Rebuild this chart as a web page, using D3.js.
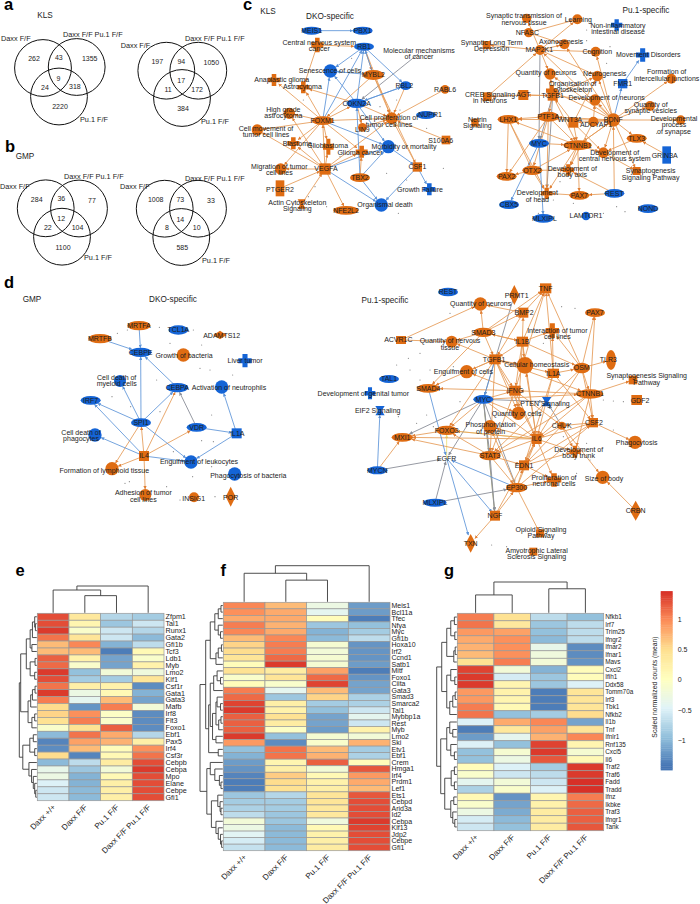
<!DOCTYPE html>
<html>
<head>
<meta charset="utf-8">
<script src="https://cdn.jsdelivr.net/npm/d3@7"></script>
<style>
  html, body { margin: 0; padding: 0; background: #fff; }
  svg text { font-family: "Liberation Sans", Arial, sans-serif; fill: #1c1c1c; }
</style>
</head>
<body>
<div id="chart"></div>
<script>
// ---------- venn counts: only A, AB, only B, ABC, AC, BC, only C
var vennLabels = ["Daxx F/F", "Daxx F/F Pu.1 F/F", "Pu.1 F/F"];
var klsUp = [262, 43, 1355, 9, 24, 318, 2220];
var klsDown = [197, 94, 1050, 17, 11, 172, 384];
var gmpUp = [284, 36, 77, 12, 22, 104, 1100];
var gmpDown = [1008, 73, 33, 14, 8, 10, 585];

// ---------- heatmaps
var conditions = ["Daxx +/+", "Daxx F/F", "Pu.1 F/F", "Daxx F/F Pu.1 F/F"];

var eGenes = ["Zfpm1","Tal1","Runx1","Gata2","Gfi1b","Tcf3","Ldb1","Myb","Lmo2","Klf1","Csf1r","Gata1","Gata3","Mafb","Irf8","Flt3","Foxo1","Ebf1","Pax5","Irf4","Csf3r","Cebpb","Cebpa","Mpo","Elane","Cebpe","Gfi1"];
var eValues = [
  [1.3,0.35,-0.75,-0.85],[1.3,0.15,-0.9,-0.6],[1.4,-0.1,-0.6,-0.75],[1.1,0.4,-0.6,-1.0],[0.7,1.0,-1.05,-0.7],
  [0.7,0.7,-1.4,0.1],[1.2,0.2,-1.15,-0.1],[1.15,-0.1,-1.15,0.2],[1.4,-0.95,-0.2,-0.25],[1.3,-0.85,-0.85,0.4],
  [1.1,0.25,0.2,-1.3],[1.4,-0.3,0.1,-1.05],[1.05,-0.4,0.7,-1.15],[0.5,-1.25,1.05,-0.2],[0.55,0.95,-0.05,-1.3],
  [0.45,1.05,-0.1,-1.3],[-0.1,0.45,1.2,-1.3],[-1.0,1.1,0.8,-0.75],[-1.35,0.85,0.75,0.25],[-1.3,0.7,0.05,0.95],
  [0.5,-1.35,0.1,1.1],[-1.0,-0.7,0.3,1.3],[-0.35,-0.9,-0.2,1.4],[-0.3,-1.05,0.1,1.3],[-0.5,-1.05,0.25,1.3],
  [-0.6,-1.0,0.25,1.3],[-0.6,-1.0,0.25,1.3]];

var fGenes = ["Meis1","Bcl11a","Tfec","Nfya","Myc","Gfi1b","Hoxa10","Irf2","Ccnd1","Satb1","Mitf","Foxo1","Ciita","Gata3","Smad3","Smarca2","Tal1","Mybbp1a","Rest","Myb","Lmo2","Ski","Etv1","Ebf1","Crem","Hmga1","Irf4","Prdm1","Lef1","Ets1","Cebpd","Arid3a","Id2","Cebpa","Klf13","Jdp2","Cebpe","Gfi1"];
var fValues = [
  [1.0,0.7,-0.3,-1.2],[0.95,0.8,-0.4,-1.2],[0.8,0.8,0.05,-1.4],[1.05,0.75,-0.9,-0.95],[1.0,0.8,-1.05,-0.85],
  [0.7,1.0,-1.0,-0.7],[0.55,1.05,-0.15,-1.25],[0.5,1.05,-0.2,-1.25],[0.4,1.15,-0.15,-1.25],[0.05,1.4,-0.15,-1.2],
  [0.45,0.3,0.85,-1.4],[-0.1,0.4,1.15,-1.25],[0.05,-0.1,1.35,-1.15],[1.05,-0.4,0.7,-1.15],[1.15,-0.9,0.55,-0.8],
  [1.35,0.25,-0.85,-0.8],[1.4,0.2,-0.95,-0.6],[1.2,0.45,-1.15,-0.4],[1.2,0.3,-1.15,-0.6],[1.2,-0.05,-1.2,0.2],
  [1.4,-0.95,-0.15,-0.2],[0.9,-1.3,-0.1,0.75],[-0.95,1.1,0.7,-0.85],[-1.05,1.1,0.75,-0.8],[-1.2,0.15,1.2,0.05],
  [-1.25,0.25,-0.2,1.25],[-1.35,0.6,0.1,0.9],[-1.4,0.5,0.2,0.8],[-1.4,0.45,0.25,0.7],[-0.9,-0.75,0.4,1.25],
  [-0.85,-0.85,0.4,1.3],[-0.8,-0.85,0.35,1.3],[-0.7,-0.9,0.35,1.3],[-0.2,-0.9,-0.25,1.4],[-0.3,-1.0,0.1,1.35],
  [-0.45,-1.0,0.2,1.3],[-0.55,-1.0,0.25,1.3],[-0.65,-1.0,0.3,1.3]];

var gGenes = ["Nfkb1","Irf7","Trim25","Ifngr2","Ifnar2","Ifnar1","Mavs","Cxcl2","Ifih1","Ddx58","Tomm70a","Irf3","Tbk1","Nfkb2","Il1b","Tnf","Ifnlr1","Rnf135","Cxcl5","Il6","Traf2","Traf6","Fadd","Tradd","Ifnz","Ikbke","Traf3","Ifngr1","Tank"];
var gValues = [
  [1.05,0.45,-0.7,-0.95],[1.1,0.35,-0.9,-0.7],[0.9,0.85,-0.95,-0.7],[0.8,0.95,-1.0,-0.7],[0.75,0.95,-0.35,-1.3],
  [0.7,0.95,-0.25,-1.3],[0.45,1.05,-0.2,-1.25],[1.35,-0.2,-1.05,0.05],[1.4,-0.55,-0.9,0.05],[1.4,0.15,-0.9,-0.5],
  [0.9,0.2,-1.4,0.4],[0.9,0.15,-1.4,0.4],[1.05,0.1,-1.4,0.4],[1.1,-0.95,-0.85,0.5],[-0.5,0.8,1.0,-1.15],
  [-1.4,0.35,0.85,0.4],[-1.2,-0.4,0.75,1.0],[-0.5,-0.95,1.35,0.15],[-0.95,-0.15,1.4,-0.15],[-0.95,-0.3,1.25,0.1],
  [0.05,-0.5,-0.85,1.4],[-0.1,-0.6,-0.7,1.4],[-0.4,-0.2,-0.6,1.45],[-0.8,-0.1,-0.5,1.45],[0.1,-1.25,0.15,1.05],
  [-0.1,-1.15,0.2,1.15],[-0.3,-1.1,0.3,1.2],[-0.55,-1.0,0.3,1.2],[-0.6,-0.95,0.3,1.25]];

// dendrograms, [height, left, right], 0 is a leaf
var eColTree = [1, [0.85, 0, [0.64, 0, 0]], 0];
var fColTree = [1, [0.79, 0, [0.6, 0, 0]], 0];
var gColTree = [1, [0.58, 0, 0], [0.78, 0, 0]];
var eRowTree = [1,
  [0.92,
    [0.6, [0.38, [0.25, [0.12, 0, [0.08, 0, 0]], 0], [0.28, 0, 0]], [0.38, [0.1, 0, 0], [0.12, 0, 0]]],
    [0.5, [0.35, [0.25, [0.1, 0, 0], 0], 0], [0.28, [0.12, 0, 0], 0]]],
  [0.8,
    [0.4, [0.2, 0, 0], [0.12, 0, 0]],
    [0.45, 0, [0.3, 0, [0.2, 0, [0.12, 0, [0.06, 0, 0]]]]]]];
var fRowTree = [1,
  [0.75,
    [0.55, [0.35, [0.2, [0.08, 0, 0], 0], [0.2, 0, [0.1, 0, 0]]], [0.3, [0.2, [0.06, 0, 0], 0], 0]],
    [0.62,
      [0.55, [0.4, [0.25, 0, [0.1, 0, 0]], 0], [0.45, [0.3, [0.25, 0, [0.1, 0, 0]], [0.18, [0.08, 0, 0], 0]], [0.3, 0, 0]]],
      [0.2, 0, 0]]],
  [0.7,
    [0.55, 0, [0.35, 0, [0.15, 0, [0.08, 0, 0]]]],
    [0.5, [0.22, 0, [0.12, 0, [0.08, 0, 0]]], [0.3, 0, [0.2, 0, [0.1, 0, [0.05, 0, 0]]]]]]];
var gRowTree = [1,
  [0.75,
    [0.5, [0.3, [0.12, 0, 0], [0.1, 0, 0]], [0.15, [0.08, 0, 0], 0]],
    [0.5, [0.3, 0, [0.1, 0, 0]], [0.35, [0.2, [0.08, 0, 0], 0], 0]]],
  [0.8,
    [0.5, [0.35, 0, [0.2, 0, 0]], [0.3, 0, [0.12, 0, 0]]],
    [0.6, [0.28, [0.12, 0, 0], [0.12, 0, 0]], [0.3, [0.15, 0, 0], [0.2, 0, [0.1, 0, 0]]]]]];

var colorTicks = [1, 0.5, 0, -0.5, -1];

// ---------- networks: id, label, up (orange) or down (blue)
var c1Nodes = [
  ["MEIS1","MEIS1","d"],["PBX1","PBX1","d"],["cns","Central nervous system\ncancer","u"],["RB1","RB1","d"],
  ["mol","Molecular mechanisms\nof cancer","n"],["sen","Senescence of cells","d"],["MYBL2","MYBL2","u"],["RBL2","RBL2","d"],
  ["RABL6","RABL6","u"],["ana","Anaplastic glioma","u"],["astro","Astrocytoma","u"],["CDKN2A","CDKN2A","d"],
  ["NUPR1","NUPR1","d"],["hga","High grade\nastrocytoma","u"],["FOXM1","FOXM1","u"],["prolif","Cell proliferation of\ntumor cell lines","u"],
  ["LIN9","LIN9","u"],["move","Cell movement of\ntumor cell lines","u"],["blast","Blastoma","u"],["gbm","Glioblastoma","u"],
  ["glioma","Glioma cancer","u"],["morb","Morbidity or mortality","d"],["S100A6","S100A6","u"],["migr","Migration of tumor\ncell lines","u"],
  ["VEGFA","VEGFA","u"],["TBX2","TBX2","u"],["CSF1","CSF1","u"],["PTGER2","PTGER2","u"],["grow","Growth Failure","d"],
  ["actin","Actin Cytoskeleton\nSignaling","u"],["NFE2L2","NFE2L2","u"],["death","Organismal death","d"]];
var c1Edges = {
  o: [["cns","RB1"],["FOXM1","ana"],["FOXM1","astro"],["FOXM1","hga"],["FOXM1","move"],["FOXM1","blast"],["FOXM1","gbm"],["FOXM1","migr"],["FOXM1","glioma"],["FOXM1","prolif"],["FOXM1","CDKN2A"],["MYBL2","FOXM1"],["MYBL2","prolif"],["RB1","MYBL2"],["RB1","prolif"],["CDKN2A","astro"],["CDKN2A","prolif"],["CDKN2A","LIN9"],["cns","astro"],["VEGFA","move"],["VEGFA","hga"],["VEGFA","blast"],["VEGFA","gbm"],["VEGFA","glioma"],["VEGFA","migr"],["VEGFA","NFE2L2"],["PTGER2","VEGFA"],["VEGFA","prolif"],["VEGFA","FOXM1"],["RABL6","prolif"],["S100A6","prolif"],["RBL2","prolif"],["CSF1","prolif"],["TBX2","glioma"],["LIN9","prolif"],["actin","VEGFA"],["MYBL2","CSF1"]],
  b: [["MEIS1","PBX1"],["CDKN2A","RB1"],["MYBL2","RB1"],["RB1","sen"],["CDKN2A","sen"],["MYBL2","sen"],["CDKN2A","RBL2"],["RB1","RBL2"],["FOXM1","RB1"],["FOXM1","sen"],["TBX2","CDKN2A"],["FOXM1","morb"],["CDKN2A","morb"],["TBX2","morb"],["TBX2","death"],["VEGFA","death"],["CSF1","death"],["CSF1","grow"],["morb","CSF1"],["VEGFA","morb"],["RBL2","CDKN2A"]],
  g: [["mol","CDKN2A"]], y: []};
var c1Dots = [[420,320],[480,330],[560,385],[585,340],[470,300],[205,590],[225,560],[260,620],[475,640],[500,540],[440,520],[610,505],[335,175],[190,300],[300,470]];

var c2Nodes = [
  ["syn","Synaptic transmission of\nnervous tissue","u"],["learn","Learning","u"],["nonin","Non-inflammatory\nintestinal disease","d"],["NFASC","NFASC","u"],
  ["axo","Axonogenesis","u"],["ltd","Synaptic Long Term\nDepression","u"],["MAP2K1","MAP2K1","u"],["cog","Cognition","u"],
  ["movd","Movement Disorders","d"],["qneu","Quantity of neurons","u"],["neuro","Neurogenesis","u"],["form","Formation of\nintercellular junctions","u"],
  ["FMR1","FMR1","d"],["org","Organisation of\ncytoskeleton","u"],["creb","CREB Signaling\nin Neurons","u"],["AGT","AGT","u"],
  ["TGFB1","TGFB1","u"],["devn","Development of neurons","u"],["qsv","Quantity of\nsynaptic vesicles","u"],["netrin","Netrin\nSignaling","u"],
  ["LHX1","LHX1","u"],["PTF1A","PTF1A","u"],["WNT3A","WNT3A","u"],["ADCYAP1","ADCYAP1","u"],["BDNF","BDNF","u"],
  ["dps","Developmental\nprocess\nof synapse","u"],["TLX3","TLX3","u"],["MYC","MYC","d"],["CTNNB1","CTNNB1","u"],
  ["dcns","Development of\ncentral nervous system","u"],["GRIN3A","GRIN3A","d"],["synap","Synaptogenesis\nSignaling Pathway","u"],["OTX2","OTX2","u"],
  ["dba","Development of\nbody axis","u"],["PAX2","PAX2","u"],["dh","Development\nof head","u"],["PAX7","PAX7","u"],["REST","REST","d"],
  ["CBX5","CBX5","d"],["MLXIPL","MLXIPL","d"],["LAMTOR1","LAMTOR1","d"],["NOND","NOND","d"]];
var c2Edges = {
  o: [["MAP2K1","syn"],["MAP2K1","learn"],["MAP2K1","axo"],["MAP2K1","cog"],["MAP2K1","ltd"],["MAP2K1","qneu"],["MAP2K1","neuro"],["NFASC","axo"],["NFASC","learn"],["BDNF","cog"],["BDNF","axo"],["BDNF","MAP2K1"],["BDNF","qneu"],["BDNF","neuro"],["BDNF","devn"],["BDNF","org"],["BDNF","form"],["BDNF","qsv"],["BDNF","dps"],["BDNF","TLX3"],["BDNF","LHX1"],["BDNF","PTF1A"],["BDNF","synap"],["BDNF","dcns"],["BDNF","CTNNB1"],["BDNF","WNT3A"],["TGFB1","AGT"],["AGT","creb"],["TGFB1","devn"],["TGFB1","PTF1A"],["TGFB1","qneu"],["TGFB1","neuro"],["TGFB1","CTNNB1"],["WNT3A","CTNNB1"],["WNT3A","TGFB1"],["WNT3A","neuro"],["WNT3A","dcns"],["ADCYAP1","devn"],["ADCYAP1","BDNF"],["ADCYAP1","dba"],["PTF1A","LHX1"],["PTF1A","OTX2"],["PTF1A","PAX2"],["PTF1A","dh"],["PTF1A","CTNNB1"],["LHX1","PAX2"],["LHX1","OTX2"],["LHX1","dh"],["OTX2","PAX2"],["OTX2","dh"],["OTX2","dba"],["OTX2","CTNNB1"],["CTNNB1","dba"],["CTNNB1","dh"],["CTNNB1","PAX7"],["CTNNB1","LHX1"],["CTNNB1","dcns"],["CTNNB1","BDNF"],["PAX7","dh"],["REST","PAX7"],["REST","BDNF"],["REST","dba"],["TLX3","dcns"],["GRIN3A","TLX3"],["dcns","synap"],["creb","MAP2K1"],["AGT","TGFB1"],["MYC","CTNNB1"]],
  b: [["FMR1","movd"],["BDNF","FMR1"],["MYC","CBX5"],["MYC","MLXIPL"]],
  g: [["MAP2K1","MYC"],["TGFB1","MYC"],["TGFB1","dh"]], y: []};
var c2Dots = [[350,122],[410,190],[420,140],[310,610],[465,635],[400,640],[440,620],[270,545],[250,600],[560,400],[205,640],[150,100],[350,90]];

var d1Nodes = [
  ["MRTFA","MRTFA","u"],["TCL1A","TCL1A","d"],["ADAMTS12","ADAMTS12","u"],["MRTFB","MRTFB","u"],["CEBPE","CEBPE","d"],
  ["gob","Growth of bacteria","u"],["liver","Liver tumor","d"],["cdm","Cell death of\nmyeloid cells","d"],["CEBPA","CEBPA","d"],
  ["act","Activation of neutrophils","d"],["IRF7","IRF7","d"],["SPI1","SPI1","d"],["VDR","VDR","d"],["IL1A","IL1A","d"],
  ["cdp","Cell death of\nphagocytes","d"],["IL4","IL4","u"],["eng","Engulfment of leukocytes","d"],["lym","Formation of lymphoid tissue","u"],
  ["pob","Phagocytosis of bacteria","d"],["adh","Adhesion of tumor\ncell lines","u"],["INSIG1","INSIG1","u"],["POR","POR","u"]];
var d1Edges = {
  o: [["IL4","CEBPA"],["IL4","SPI1"],["IL4","VDR"],["SPI1","lym"],["IL4","lym"],["IL4","adh"]],
  b: [["MRTFB","CEBPE"],["MRTFA","CEBPE"],["SPI1","CEBPE"],["CEBPA","CEBPE"],["SPI1","CEBPA"],["SPI1","IRF7"],["IL4","IRF7"],["IL4","cdp"],["SPI1","cdm"],["SPI1","eng"],["IL4","eng"],["VDR","IL1A"],["IL1A","act"],["IL1A","eng"]],
  g: [["VDR","CEBPA"]], y: []};
var d1Dots = [[352,190],[382,180],[478,172],[510,220],[580,180],[605,225],[600,295],[470,330],[630,300],[698,315],[336,380],[392,410],[480,425],[635,435],[605,512],[640,515],[520,545],[578,620],[635,590],[500,650],[645,680],[388,635],[375,640],[540,690]];

var d2Nodes = [
  ["REST","REST","d"],["PRMT1","PRMT1","u"],["TNF","TNF","u"],["qneu","Quantity of neurons","u"],["BMP2","BMP2","u"],["PAX7","PAX7","u"],
  ["itc","Interaction of tumor\ncell lines","u"],["SMAD3","SMAD3","u"],["ACVR1C","ACVR1C","u"],["qnt","Quantity of nervous\ntissue","u"],["IL1B","IL1B","u"],
  ["TGFB1","TGFB1","u"],["TLR3","TLR3","u"],["hom","Cellular homeostasis","u"],["OSM","OSM","u"],["IL1A","IL1A","u"],["eng","Engulfment of cells","u"],
  ["syn","Synaptogenesis Signaling\nPathway","u"],["TAL1","TAL1","d"],["SMAD4","SMAD4","u"],["IFNG","IFNG","u"],["gen","Development of genital tumor","d"],
  ["CTNNB1","CTNNB1","u"],["MYC","MYC","d"],["GDF2","GDF2","u"],["pten","PTEN Signaling","d"],["eif2","EIF2 Signaling","d"],["qc","Quantity of cells","u"],
  ["CHUK","CHUK","u"],["CSF2","CSF2","u"],["FOXO3","FOXO3","u"],["phos","Phosphorylation\nof protein","u"],["MXI1","MXI1","u"],["IL6","IL6","u"],
  ["phago","Phagocytosis","u"],["dbt","Development of\nbody trunk","u"],["STAT3","STAT3","u"],["EGFR","EGFR","n"],["EDN1","EDN1","u"],["MYCN","MYCN","d"],
  ["pnc","Proliferation of\nneuronal cells","u"],["size","Size of body","u"],["EP300","EP300","u"],["MLXIPL","MLXIPL","d"],["CRBN","CRBN","u"],["NGF","NGF","u"],
  ["opi","Opioid Signaling\nPathway","u"],["TXN","TXN","u"],["als","Amyotrophic Lateral\nSclerosis Signaling","u"]];
var d2Edges = {
  o: [["ACVR1C","qneu"],["ACVR1C","qnt"],["SMAD3","qneu"],["SMAD3","TNF"],["SMAD3","BMP2"],["SMAD3","IL1B"],["SMAD3","TGFB1"],["SMAD3","SMAD4"],["SMAD3","qnt"],["BMP2","TNF"],["BMP2","qneu"],["BMP2","TGFB1"],["IL1B","TNF"],["IL1B","BMP2"],["IL1B","itc"],["IL1B","SMAD3"],["IL1B","TGFB1"],["IL1B","hom"],["IL1B","OSM"],["IL1B","IL6"],["IL1B","IFNG"],["IL1B","qc"],["TGFB1","eng"],["TGFB1","qnt"],["TGFB1","SMAD4"],["TGFB1","hom"],["TGFB1","IFNG"],["TGFB1","IL1A"],["TGFB1","IL6"],["TGFB1","STAT3"],["TGFB1","qc"],["TGFB1","FOXO3"],["TGFB1","CTNNB1"],["IL1A","TNF"],["IL1A","itc"],["IL1A","IL6"],["IL1A","OSM"],["IL1A","CSF2"],["IL1A","EDN1"],["OSM","TLR3"],["OSM","PAX7"],["OSM","itc"],["OSM","TNF"],["OSM","CTNNB1"],["OSM","IL6"],["OSM","CSF2"],["OSM","STAT3"],["CTNNB1","syn"],["CTNNB1","PAX7"],["CTNNB1","IL6"],["CTNNB1","CSF2"],["CTNNB1","dbt"],["CTNNB1","IFNG"],["CTNNB1","STAT3"],["IFNG","IL6"],["IFNG","STAT3"],["IFNG","TNF"],["IFNG","qc"],["IFNG","eng"],["IFNG","SMAD4"],["IFNG","CHUK"],["IL6","STAT3"],["IL6","EDN1"],["IL6","dbt"],["IL6","pnc"],["IL6","CSF2"],["IL6","hom"],["IL6","phos"],["IL6","FOXO3"],["IL6","MXI1"],["STAT3","MXI1"],["STAT3","FOXO3"],["STAT3","EDN1"],["STAT3","EP300"],["EP300","pnc"],["EP300","opi"],["EP300","IL6"],["EP300","EDN1"],["EP300","CSF2"],["EP300","phos"],["NGF","EP300"],["NGF","TXN"],["NGF","IL6"],["EDN1","dbt"],["EDN1","pnc"],["EDN1","CSF2"],["CSF2","phago"],["CSF2","CHUK"],["CHUK","IL6"],["CHUK","dbt"],["CHUK","size"],["CHUK","EDN1"],["CRBN","size"],["FOXO3","MXI1"],["MYC","IFNG"],["MYC","CTNNB1"],["MYC","IL6"],["MYC","qc"],["MYC","FOXO3"],["MYCN","MXI1"]],
  b: [["SMAD4","EGFR"],["EGFR","TXN"],["MYCN","eif2"],["EGFR","NGF"],["EP300","EGFR"],["TGFB1","MYC"]],
  g: [["MYC","MXI1"],["MYC","STAT3"],["MYC","EP300"],["MYC","NGF"],["MYC","EGFR"],["PRMT1","MYC"],["MYCN","EGFR"],["MLXIPL","EP300"],["MLXIPL","EGFR"],["STAT3","NGF"],["MYC","pten"],["CHUK","pten"]],
  y: [["MYC","NGF"],["IL6","FOXO3"],["EGFR","FOXO3"]]};
var d2Dots = [[725,110],[765,115],[390,130],[300,250],[265,265],[330,300],[270,300],[230,285],[300,330],[400,290],[320,435],[290,460],[340,470],[235,440],[850,390],[880,393],[910,395],[515,825],[560,830],[730,500],[800,520],[880,480],[420,395],[670,220],[770,610],[810,570]];

// ---------- layout only, in crop pixels (3x). id: [x, y, shape, halfW, halfH, labelX, labelY]
var c1Layout = {
  MEIS1:[215,92,"e",30,12,215,92],PBX1:[368,92,"e",30,12,368,92],cns:[232,135,"p",18,22,238,136],RB1:[372,140,"e",30,12,372,140],
  mol:[537,160,"n",10,10,537,160],sen:[271,213,"c",20,20,270,212],MYBL2:[400,225,"e",32,15,400,225],RBL2:[497,257,"e",17,13,493,257],
  RABL6:[615,268,"c",13,13,615,270],ana:[102,240,"p",18,18,125,238],astro:[190,262,"p",18,18,187,260],CDKN2A:[350,310,"e",30,14,350,310],
  NUPR1:[558,345,"e",30,12,570,345],hga:[148,340,"c",17,17,130,338],FOXM1:[248,362,"e",32,13,248,362],prolif:[455,355,"c",18,18,447,363],
  LIN9:[367,382,"c",13,13,367,388],move:[52,390,"c",17,17,78,394],blast:[160,430,"p",18,18,172,430],gbm:[265,440,"p",16,24,263,438],
  glioma:[365,455,"p",18,18,360,458],morb:[445,440,"c",20,20,492,441],S100A6:[618,420,"r",13,13,602,422],migr:[122,507,"c",17,17,118,509],
  VEGFA:[255,507,"r",17,17,258,506],TBX2:[360,533,"e",30,13,360,533],CSF1:[532,501,"r",14,14,532,501],PTGER2:[120,565,"r",13,24,120,570],
  grow:[568,568,"p",18,18,540,568],actin:[185,612,"t",12,14,172,616],NFE2L2:[318,631,"e",38,13,318,631],death:[424,615,"c",20,20,435,615]};
var c2Layout = {
  syn:[170,55,"c",14,14,162,57],learn:[322,58,"c",15,15,325,58],nonin:[440,75,"p",17,17,444,86],NFASC:[176,98,"c",14,14,172,98],
  axo:[283,133,"c",15,15,273,125],ltd:[50,135,"r",12,12,65,136],MAP2K1:[210,150,"c",15,15,208,148],cog:[377,155,"c",15,15,382,155],
  movd:[518,165,"p",20,20,535,163],qneu:[240,222,"c",17,17,228,218],neuro:[382,228,"c",16,16,404,221],form:[604,236,"c",15,15,590,225],
  FMR1:[458,251,"r",14,14,458,251],org:[245,272,"p",17,17,308,260],creb:[52,290,"r",13,13,60,292],AGT:[160,285,"r",15,15,160,285],
  TGFB1:[248,287,"r",15,15,248,288],devn:[375,300,"c",17,17,410,293],qsv:[540,318,"c",15,15,542,323],netrin:[15,368,"r",11,12,22,368],
  LHX1:[115,358,"e",32,13,115,358],PTF1A:[235,350,"e",32,15,235,350],WNT3A:[310,368,"r",15,15,300,360],ADCYAP1:[370,365,"c",15,15,378,375],
  BDNF:[430,360,"c",20,20,430,360],dps:[632,360,"c",14,14,612,375],TLX3:[500,415,"e",30,13,500,415],MYC:[207,430,"e",30,13,207,430],
  CTNNB1:[323,436,"e",42,15,323,436],dcns:[400,458,"c",16,16,434,467],GRIN3A:[590,465,"r",13,26,584,466],synap:[500,513,"r",12,12,542,522],
  OTX2:[187,511,"e",30,14,187,511],dba:[295,510,"p",17,17,307,515],PAX2:[110,529,"e",30,13,110,529],dh:[230,580,"p",17,17,202,588],
  PAX7:[328,586,"e",30,13,328,586],REST:[433,580,"e",30,13,433,580],CBX5:[117,614,"e",30,13,117,614],MLXIPL:[220,655,"e",32,13,223,655],
  LAMTOR1:[348,648,"c",13,13,348,648],NOND:[534,626,"e",30,13,534,626]};
var d1Layout = {
  MRTFA:[417,167,"e",35,14,417,167],TCL1A:[535,180,"e",30,14,535,180],ADAMTS12:[660,195,"d",20,13,665,196],MRTFB:[300,206,"e",35,14,300,206],
  CEBPE:[422,247,"e",33,14,422,247],gob:[550,255,"c",20,20,552,257],liver:[735,272,"p",20,20,735,273],cdm:[360,333,"c",18,18,350,332],
  CEBPA:[532,353,"e",33,14,532,353],act:[665,351,"c",20,20,687,352],IRF7:[272,391,"e",30,13,272,391],SPI1:[423,458,"e",30,13,423,458],
  VDR:[590,472,"e",30,13,590,472],IL1A:[710,490,"r",15,15,712,490],cdp:[285,495,"c",20,20,243,496],IL4:[432,558,"r",15,15,432,558],
  eng:[573,576,"c",20,20,597,574],lym:[336,596,"c",20,20,313,601],pob:[704,612,"c",20,20,745,618],adh:[436,675,"c",18,18,430,678],
  INSIG1:[582,682,"c",15,15,581,685],POR:[692,680,"d",15,30,692,682]};
var d2Layout = {
  REST:[384,66,"e",30,13,384,66],PRMT1:[583,75,"d",15,30,590,77],TNF:[677,55,"r",17,15,677,55],qneu:[481,102,"c",20,20,482,102],BMP2:[610,128,"r",15,15,612,128],
  PAX7:[825,128,"e",30,13,825,128],itc:[697,182,"p",20,22,712,190],SMAD3:[490,187,"e",30,14,490,187],ACVR1C:[243,210,"r",15,12,235,210],
  qnt:[395,215,"c",18,18,390,222],IL1B:[607,215,"r",17,15,607,215],TGFB1:[525,268,"r",17,15,522,268],TLR3:[873,270,"e",15,30,865,270],
  hom:[615,286,"c",25,25,650,284],OSM:[785,294,"e",25,16,785,294],IL1A:[700,310,"r",17,14,700,310],eng:[440,305,"c",20,20,430,305],
  syn:[939,330,"r",13,13,980,327],TAL1:[207,327,"e",30,12,207,327],SMAD4:[325,355,"e",35,13,325,355],IFNG:[585,362,"r",17,15,585,362],
  gen:[150,370,"p",16,18,130,372],CTNNB1:[810,372,"e",40,14,810,372],MYC:[490,388,"e",30,13,490,388],GDF2:[950,390,"r",16,15,960,391],
  pten:[680,395,"t",14,14,675,400],eif2:[180,422,"t",14,14,173,423],qc:[595,430,"c",20,20,590,431],CHUK:[725,467,"c",12,12,725,467],
  CSF2:[820,458,"r",14,14,822,458],FOXO3:[380,481,"e",32,14,380,481],phos:[510,470,"c",20,20,512,474],MXI1:[247,502,"e",32,13,247,502],
  IL6:[650,507,"r",15,15,650,507],phago:[945,517,"c",20,20,950,518],dbt:[765,545,"p",17,18,776,548],STAT3:[510,557,"e",32,14,510,557],
  EGFR:[380,565,"n",20,10,380,565],EDN1:[612,586,"r",15,15,612,586],MYCN:[172,601,"e",30,12,172,601],pnc:[702,630,"p",22,20,702,632],
  size:[848,622,"c",20,20,852,627],EP300:[590,653,"e",32,14,590,653],MLXIPL:[345,698,"e",35,12,345,698],CRBN:[947,722,"d",17,30,947,722],
  NGF:[525,737,"r",15,15,525,737],opi:[660,790,"r",12,12,663,788],TXN:[452,820,"d",15,28,452,820],als:[640,845,"r",12,12,650,850]};

// ---------- drawing
var width = 700, height = 904;
var svg = d3.select("#chart").append("svg")
    .attr("width", width)
    .attr("height", height)
    .style("display", "block");

var orange = "#df6c12", blue = "#1464d6";
var edgeColors = {o: "#e59a55", b: "#5c93d8", g: "#8b8f99", y: "#ecdf77"};

// panel letters and titles
var letters = [["a",4,10],["b",5,152],["c",243,9.5],["d",4,288],["e",15.5,575.5],["f",220.5,575.5],["g",444,575.5]];
svg.selectAll("text.letter").data(letters).enter().append("text")
    .attr("class", "letter")
    .attr("x", function(d) { return d[1]; })
    .attr("y", function(d) { return d[2]; })
    .style("font-size", "16.5px").style("font-weight", "bold")
    .style("fill", "#000")
    .text(function(d) { return d[0]; });

var titles = [["KLS",45,18],["GMP",25,159],["KLS",268,13.5],["DKO-specific",330,19],["Pu.1-specific",646,13],
              ["GMP",32,302],["DKO-specific",173,302],["Pu.1-specific",385,303]];
svg.selectAll("text.title").data(titles).enter().append("text")
    .attr("class", "title")
    .attr("x", function(d) { return d[1]; })
    .attr("y", function(d) { return d[2]; })
    .attr("text-anchor", "middle")
    .style("font-size", "8.2px")
    .text(function(d) { return d[0]; });

function drawVenn(counts, circles, nameSpots) {
  var g = svg.append("g");
  g.selectAll("circle").data(circles).enter().append("circle")
      .attr("cx", function(d) { return d[0]; })
      .attr("cy", function(d) { return d[1]; })
      .attr("r", 28.4)
      .attr("fill", "none").attr("stroke", "#111").attr("stroke-width", 1);
  var a = circles[0], b = circles[1], c = circles[2];
  var spots = [
    [a[0] - 9, a[1] - 9],
    [(a[0] + b[0]) / 2 - 1, (a[1] + b[1]) / 2 - 9.5],
    [b[0] + 13, b[1] - 8],
    [(a[0] + b[0] + c[0]) / 3 - 1, (a[1] + b[1] + c[1]) / 3 + 1],
    [(a[0] + c[0]) / 2 - 6, (a[1] + c[1]) / 2 + 5],
    [(b[0] + c[0]) / 2 + 7, (b[1] + c[1]) / 2 + 5],
    [c[0] + 1, c[1] + 10.5]];
  g.selectAll("text.n").data(counts).enter().append("text")
      .attr("class", "n")
      .attr("x", function(d, i) { return spots[i][0]; })
      .attr("y", function(d, i) { return spots[i][1] + 2.4; })
      .attr("text-anchor", "middle")
      .style("font-size", "7px")
      .text(function(d) { return d; });
  g.selectAll("text.s").data(vennLabels).enter().append("text")
      .attr("class", "s")
      .attr("x", function(d, i) { return nameSpots[i][0]; })
      .attr("y", function(d, i) { return nameSpots[i][1]; })
      .style("font-size", "7.3px")
      .text(function(d) { return d; });
}
drawVenn(klsUp, [[43,68],[76.7,67],[59,96.5]], [[1,40.5],[63,37],[80,122]]);
drawVenn(klsDown, [[166.3,70.7],[198.3,70.7],[182,98]], [[120.7,48],[185,41],[201,124]]);
drawVenn(gmpUp, [[45.7,208.3],[79,208.5],[62,236.7]], [[0,188.5],[64,179],[84,260]]);
drawVenn(gmpDown, [[164.7,208.7],[198,208.7],[181.3,237]], [[120,188.5],[185,180.5],[202,262.5]]);

// outline of a node around 0,0
function shapePath(s, w, h) {
  var line = d3.line();
  if (s == "e" || s == "c") {
    return "M" + (-w) + ",0A" + w + "," + h + " 0 1,0 " + w + ",0A" + w + "," + h + " 0 1,0 " + (-w) + ",0Z";
  }
  if (s == "r") return line([[-w,-h],[w,-h],[w,h],[-w,h]]) + "Z";
  if (s == "d") return line([[0,-h],[w,0],[0,h],[-w,0]]) + "Z";
  if (s == "t") return line([[-w,-h],[w,-h],[w*0.35,0],[w,h],[-w,h],[-w*0.35,0]]) + "Z";
  var a = w * 0.38, b = h * 0.38;
  return line([[-a,-h],[a,-h],[a,-b],[w,-b],[w,b],[a,b],[a,h],[-a,h],[-a,b],[-w,b],[-w,-b],[-a,-b]]) + "Z";
}

var defs = svg.append("defs");
Object.keys(edgeColors).forEach(function(k) {
  defs.append("marker")
      .attr("id", "arrow-" + k)
      .attr("viewBox", "0 0 6 6")
      .attr("refX", 5.5).attr("refY", 3)
      .attr("markerWidth", 4).attr("markerHeight", 4)
      .attr("orient", "auto")
    .append("path")
      .attr("d", "M0,0L6,3L0,6Z")
      .attr("fill", k == "o" ? "#e07f35" : edgeColors[k]);
});

function drawNetwork(nodes, edges, layout, dots, ox, oy) {
  var x = d3.scaleLinear().domain([0, 3]).range([ox, ox + 1]);
  var y = d3.scaleLinear().domain([0, 3]).range([oy, oy + 1]);
  var g = svg.append("g");

  g.selectAll("circle.dot").data(dots).enter().append("circle")
      .attr("class", "dot")
      .attr("cx", function(d) { return x(d[0]); })
      .attr("cy", function(d) { return y(d[1]); })
      .attr("r", 0.55)
      .attr("fill", "#777");

  ["y", "g", "o", "b"].forEach(function(k) {
    g.selectAll("line.e" + k).data(edges[k]).enter().append("line")
        .attr("class", "e" + k)
        .attr("x1", function(d) { return x(layout[d[0]][0]); })
        .attr("y1", function(d) { return y(layout[d[0]][1]); })
        .attr("x2", function(d) { return x(endPoint(d)[0]); })
        .attr("y2", function(d) { return y(endPoint(d)[1]); })
        .attr("stroke", edgeColors[k])
        .attr("stroke-width", k == "g" ? 0.9 : 0.85)
        .attr("marker-end", "url(#arrow-" + k + ")");
  });

  // stop the line on the rim of the target
  function endPoint(d) {
    var a = layout[d[0]], b = layout[d[1]];
    var dx = a[0] - b[0], dy = a[1] - b[1];
    var t = 1 / Math.sqrt(Math.pow(dx / b[3], 2) + Math.pow(dy / b[4], 2));
    return [b[0] + dx * t, b[1] + dy * t];
  }

  var visible = nodes.filter(function(d) { return d[2] != "n"; });
  g.selectAll("path.node").data(visible).enter().append("path")
      .attr("class", "node")
      .attr("transform", function(d) { return "translate(" + x(layout[d[0]][0]) + "," + y(layout[d[0]][1]) + ")"; })
      .attr("d", function(d) {
        var l = layout[d[0]];
        return shapePath(l[2], x(l[3]) - x(0), y(l[4]) - y(0));
      })
      .attr("fill", function(d) { return d[2] == "u" ? orange : blue; });

  var labels = g.selectAll("text.label").data(nodes).enter().append("text")
      .attr("class", "label")
      .attr("text-anchor", "middle")
      .style("font-size", "7px");
  labels.each(function(d) {
    var l = layout[d[0]], lines = d[1].split("\n"), me = d3.select(this);
    lines.forEach(function(t, i) {
      me.append("tspan")
          .attr("x", x(l[5]))
          .attr("y", y(l[6]) + 2.4 + (i - (lines.length - 1) / 2) * 6.3)
          .text(t);
    });
  });
}
drawNetwork(c1Nodes, c1Edges, c1Layout, c1Dots, 240, 0);
drawNetwork(c2Nodes, c2Edges, c2Layout, c2Dots, 470, 0);
drawNetwork(d1Nodes, d1Edges, d1Layout, d1Dots, 0, 270);
drawNetwork(d2Nodes, d2Edges, d2Layout, d2Dots, 320, 270);

// colour scale, same ramp as pheatmap with rev(RdYlBu 7)
var color = d3.scaleLinear()
    .domain([-1.45, -0.97, -0.48, 0, 0.48, 0.97, 1.45])
    .range(["#4575b4", "#91bfdb", "#e0f3f8", "#ffffbf", "#fee090", "#fc8d59", "#d73027"])
    .clamp(true);

function drawTree(tree, leafPos, hScale, vertical) {
  var root = d3.hierarchy(tree, function(d) { return Array.isArray(d) ? d.slice(1) : null; });
  root.leaves().forEach(function(l, i) { l.pos = leafPos(i); });
  root.eachAfter(function(n) {
    if (n.children) n.pos = d3.mean(n.children, function(c) { return c.pos; });
    n.h = hScale(n.children ? n.data[0] : 0);
  });
  var d = "";
  root.descendants().forEach(function(n) {
    if (!n.children) return;
    var p = d3.path(), a = n.children[0], b = n.children[1];
    if (vertical) {
      p.moveTo(a.pos, a.h); p.lineTo(a.pos, n.h); p.lineTo(b.pos, n.h); p.lineTo(b.pos, b.h);
    } else {
      p.moveTo(a.h, a.pos); p.lineTo(n.h, a.pos); p.lineTo(n.h, b.pos); p.lineTo(b.h, b.pos);
    }
    d += p.toString();
  });
  svg.append("path").attr("d", d)
      .attr("fill", "none").attr("stroke", "#3a3a3a").attr("stroke-width", 0.9);
}

function drawHeatmap(genes, values, colTree, rowTree, box) {
  var x = d3.scaleBand().domain(conditions).range([box.x0, box.x1]);
  var y = d3.scaleBand().domain(genes).range([box.y0, box.y1]);
  var g = svg.append("g");
  var rows = g.selectAll("g.row").data(values).enter().append("g").attr("class", "row");
  rows.selectAll("rect").data(function(d, i) {
        return d.map(function(v, j) { return {v: v, gene: genes[i], cond: conditions[j]}; });
      }).enter().append("rect")
      .attr("x", function(d) { return x(d.cond); })
      .attr("y", function(d) { return y(d.gene); })
      .attr("width", x.bandwidth())
      .attr("height", y.bandwidth())
      .attr("fill", function(d) { return color(d.v); })
      .attr("stroke", "#999").attr("stroke-width", 0.7);

  g.selectAll("text.gene").data(genes).enter().append("text")
      .attr("class", "gene")
      .attr("x", box.x1 + 1.5)
      .attr("y", function(d) { return y(d) + y.bandwidth() / 2 + 2.4; })
      .style("font-size", box.font + "px")
      .text(function(d) { return d; });

  g.selectAll("text.cond").data(conditions).enter().append("text")
      .attr("class", "cond")
      .attr("text-anchor", "end")
      .attr("transform", function(d) {
        return "translate(" + (x(d) + x.bandwidth() / 2 + 3) + "," + (box.y1 + 7) + ") rotate(-45)";
      })
      .style("font-size", "8px")
      .text(function(d) { return d; });

  drawTree(colTree, function(i) { return x(conditions[i]) + x.bandwidth() / 2; },
    d3.scaleLinear().domain([0, 1]).range([box.y0 - 0.5, box.colTop]), true);
  drawTree(rowTree, function(i) { return y(genes[i]) + y.bandwidth() / 2; },
    d3.scaleLinear().domain([0, 1]).range([box.x0 - 0.5, box.rowLeft]), false);
}
drawHeatmap(eGenes, eValues, eColTree, eRowTree, {x0:37.3, x1:164, y0:613.3, y1:800.7, colTop:586, rowLeft:19.3, font:7.2});
drawHeatmap(fGenes, fValues, fColTree, fRowTree, {x0:223.3, x1:390, y0:602.3, y1:850.7, colTop:565.7, rowLeft:200, font:7});
drawHeatmap(gGenes, gValues, gColTree, gRowTree, {x0:457.3, x1:603.7, y0:613.3, y1:830.7, colTop:582, rowLeft:436.7, font:6.4});

// colour bar
var barScale = d3.scaleLinear().domain([-1.5, 1.45]).range([770, 592.3]);
var bar = svg.append("g");
bar.selectAll("rect").data(d3.range(-1.5, 1.45, 0.03)).enter().append("rect")
    .attr("x", 660.7)
    .attr("y", function(d) { return barScale(d + 0.03); })
    .attr("width", 12)
    .attr("height", function(d) { return barScale(d) - barScale(d + 0.03) + 0.4; })
    .attr("fill", function(d) { return color(d); });
var barAxis = svg.append("g")
    .attr("transform", "translate(672.7,0)")
    .call(d3.axisRight(barScale).tickValues(colorTicks).tickSize(0).tickPadding(5).tickFormat(d3.format("")));
barAxis.select(".domain").remove();
barAxis.selectAll("text").style("font-size", "7px");
svg.append("text")
    .attr("transform", "translate(656.5,687) rotate(-90)")
    .attr("text-anchor", "middle")
    .style("font-size", "6.8px")
    .text("Scaled normalized counts (mean)");
</script>
</body>
</html>
